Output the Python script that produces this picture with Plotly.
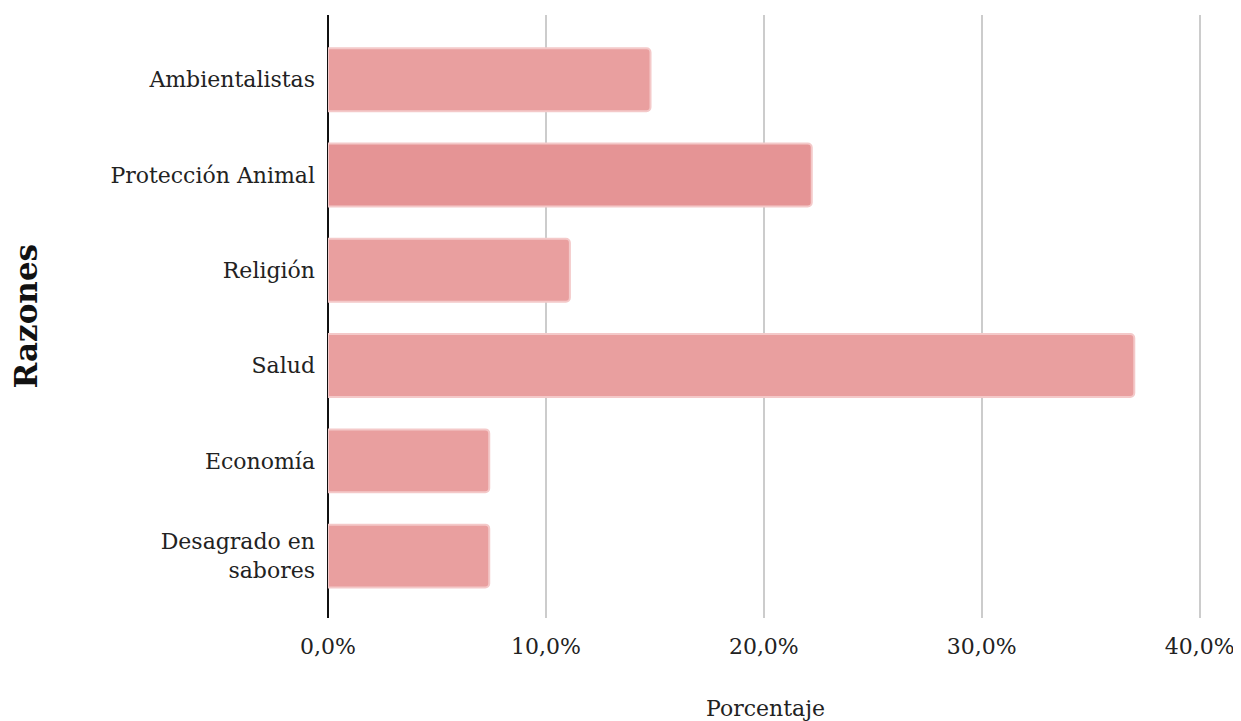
import plotly.graph_objects as go

categories = ["Desagrado en<br>sabores", "Economía", "Salud", "Religión", "Protección Animal", "Ambientalistas"]
values = [7.4, 7.4, 37.0, 11.1, 22.2, 14.8]
bar_colors = ["#E99F9F", "#E99F9F", "#E99F9F", "#E99F9F", "#E59495", "#E99F9F"]
x_ticks = [0, 10, 20, 30, 40]
x_ticklabels = ["0,0%", "10,0%", "20,0%", "30,0%", "40,0%"]

FONT = "Georgia, 'DejaVu Serif', serif"

fig = go.Figure(go.Bar(
    y=categories, x=values, orientation="h",
    marker=dict(color=bar_colors, line=dict(color="#F4C9C9", width=2)),
    width=0.66,
))

OFF = 8  # page body margin
W, H = 1241, 721
L, T = 328 - OFF, 15 - OFF
PW = 876
PH = 603
R = W - L - PW
B = H - T - PH
fig.update_layout(
    width=W, height=H,
    margin=dict(l=L, r=R, t=T, b=B, autoexpand=False),
    plot_bgcolor="white", paper_bgcolor="white",
    barcornerradius=4,
    showlegend=False,
    font=dict(family=FONT, size=22, color="#222222"),
    xaxis=dict(
        range=[0, 40.2], tickvals=x_ticks, ticktext=x_ticklabels,
        showgrid=True, gridcolor="#CCCCCC", gridwidth=2,
        zeroline=True, zerolinecolor="#111111", zerolinewidth=2,
        ticks="", ticklabelstandoff=13, fixedrange=True,
        tickfont=dict(family=FONT, size=22, color="#222222"),
    ),
    yaxis=dict(
        range=[-0.65, 5.68], showgrid=False, zeroline=False,
        ticks="", ticklabelstandoff=12,
        tickfont=dict(family=FONT, size=22, color="#222222"),
    ),
    annotations=[
        dict(text="Razones", textangle=-90, x=(25 - OFF - L) / PW, y=0.5,
             xanchor="center", yanchor="middle",
             xref="paper", yref="paper", showarrow=False,
             font=dict(family=FONT, size=31, color="#111111", weight="bold")),
        dict(text="Porcentaje", x=(765 - OFF - L) / PW, y=-(708 - OFF - (T + PH)) / PH,
             xanchor="center", yanchor="middle",
             xref="paper", yref="paper", showarrow=False,
             font=dict(family=FONT, size=22, color="#222222")),
    ],
)

fig.write_html("out.html")
